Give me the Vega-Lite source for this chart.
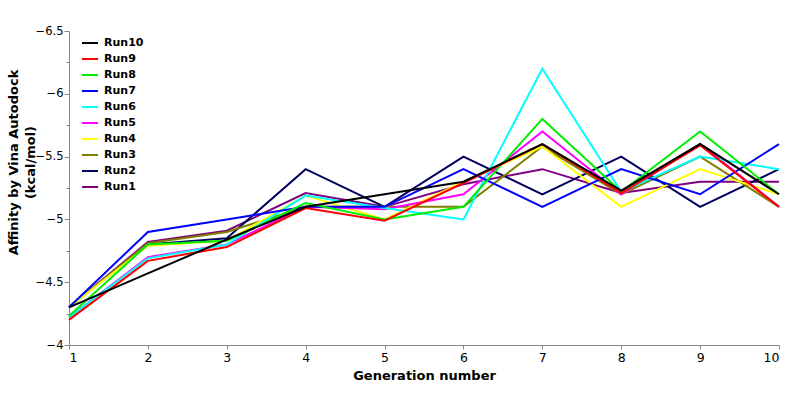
{
  "$schema": "https://vega.github.io/schema/vega-lite/v6.json",
  "width": 710,
  "height": 314,
  "autosize": {"type": "none"},
  "padding": {"left": 69, "top": 31, "right": 21, "bottom": 51},
  "background": "white",
  "config": {"view": {"stroke": null}},
  "data": {
    "values": [
      {"run": "Run1", "gen": 1, "affinity": -4.3},
      {"run": "Run1", "gen": 2, "affinity": -4.82},
      {"run": "Run1", "gen": 3, "affinity": -4.91},
      {"run": "Run1", "gen": 4, "affinity": -5.21},
      {"run": "Run1", "gen": 5, "affinity": -5.1},
      {"run": "Run1", "gen": 6, "affinity": -5.28},
      {"run": "Run1", "gen": 7, "affinity": -5.4},
      {"run": "Run1", "gen": 8, "affinity": -5.21},
      {"run": "Run1", "gen": 9, "affinity": -5.3},
      {"run": "Run1", "gen": 10, "affinity": -5.3},
      {"run": "Run2", "gen": 1, "affinity": -4.3},
      {"run": "Run2", "gen": 2, "affinity": -4.8},
      {"run": "Run2", "gen": 3, "affinity": -4.85},
      {"run": "Run2", "gen": 4, "affinity": -5.4},
      {"run": "Run2", "gen": 5, "affinity": -5.1},
      {"run": "Run2", "gen": 6, "affinity": -5.5},
      {"run": "Run2", "gen": 7, "affinity": -5.2},
      {"run": "Run2", "gen": 8, "affinity": -5.5},
      {"run": "Run2", "gen": 9, "affinity": -5.1},
      {"run": "Run2", "gen": 10, "affinity": -5.4},
      {"run": "Run3", "gen": 1, "affinity": -4.3},
      {"run": "Run3", "gen": 2, "affinity": -4.81},
      {"run": "Run3", "gen": 3, "affinity": -4.9},
      {"run": "Run3", "gen": 4, "affinity": -5.1},
      {"run": "Run3", "gen": 5, "affinity": -5.1},
      {"run": "Run3", "gen": 6, "affinity": -5.1},
      {"run": "Run3", "gen": 7, "affinity": -5.58},
      {"run": "Run3", "gen": 8, "affinity": -5.2},
      {"run": "Run3", "gen": 9, "affinity": -5.5},
      {"run": "Run3", "gen": 10, "affinity": -5.1},
      {"run": "Run4", "gen": 1, "affinity": -4.3},
      {"run": "Run4", "gen": 2, "affinity": -4.79},
      {"run": "Run4", "gen": 3, "affinity": -4.83},
      {"run": "Run4", "gen": 4, "affinity": -5.19},
      {"run": "Run4", "gen": 5, "affinity": -5.0},
      {"run": "Run4", "gen": 6, "affinity": -5.3},
      {"run": "Run4", "gen": 7, "affinity": -5.58},
      {"run": "Run4", "gen": 8, "affinity": -5.1},
      {"run": "Run4", "gen": 9, "affinity": -5.4},
      {"run": "Run4", "gen": 10, "affinity": -5.2},
      {"run": "Run5", "gen": 1, "affinity": -4.22},
      {"run": "Run5", "gen": 2, "affinity": -4.7},
      {"run": "Run5", "gen": 3, "affinity": -4.8},
      {"run": "Run5", "gen": 4, "affinity": -5.1},
      {"run": "Run5", "gen": 5, "affinity": -5.08},
      {"run": "Run5", "gen": 6, "affinity": -5.2},
      {"run": "Run5", "gen": 7, "affinity": -5.7},
      {"run": "Run5", "gen": 8, "affinity": -5.2},
      {"run": "Run5", "gen": 9, "affinity": -5.6},
      {"run": "Run5", "gen": 10, "affinity": -5.1},
      {"run": "Run6", "gen": 1, "affinity": -4.22},
      {"run": "Run6", "gen": 2, "affinity": -4.69},
      {"run": "Run6", "gen": 3, "affinity": -4.8},
      {"run": "Run6", "gen": 4, "affinity": -5.19},
      {"run": "Run6", "gen": 5, "affinity": -5.09},
      {"run": "Run6", "gen": 6, "affinity": -5.0},
      {"run": "Run6", "gen": 7, "affinity": -6.2},
      {"run": "Run6", "gen": 8, "affinity": -5.22},
      {"run": "Run6", "gen": 9, "affinity": -5.5},
      {"run": "Run6", "gen": 10, "affinity": -5.4},
      {"run": "Run7", "gen": 1, "affinity": -4.3},
      {"run": "Run7", "gen": 2, "affinity": -4.9},
      {"run": "Run7", "gen": 3, "affinity": -5.0},
      {"run": "Run7", "gen": 4, "affinity": -5.1},
      {"run": "Run7", "gen": 5, "affinity": -5.1},
      {"run": "Run7", "gen": 6, "affinity": -5.4},
      {"run": "Run7", "gen": 7, "affinity": -5.1},
      {"run": "Run7", "gen": 8, "affinity": -5.4},
      {"run": "Run7", "gen": 9, "affinity": -5.2},
      {"run": "Run7", "gen": 10, "affinity": -5.6},
      {"run": "Run8", "gen": 1, "affinity": -4.23},
      {"run": "Run8", "gen": 2, "affinity": -4.8},
      {"run": "Run8", "gen": 3, "affinity": -4.83},
      {"run": "Run8", "gen": 4, "affinity": -5.13},
      {"run": "Run8", "gen": 5, "affinity": -5.0},
      {"run": "Run8", "gen": 6, "affinity": -5.1},
      {"run": "Run8", "gen": 7, "affinity": -5.8},
      {"run": "Run8", "gen": 8, "affinity": -5.22},
      {"run": "Run8", "gen": 9, "affinity": -5.7},
      {"run": "Run8", "gen": 10, "affinity": -5.2},
      {"run": "Run9", "gen": 1, "affinity": -4.2},
      {"run": "Run9", "gen": 2, "affinity": -4.67},
      {"run": "Run9", "gen": 3, "affinity": -4.78},
      {"run": "Run9", "gen": 4, "affinity": -5.09},
      {"run": "Run9", "gen": 5, "affinity": -4.99},
      {"run": "Run9", "gen": 6, "affinity": -5.29},
      {"run": "Run9", "gen": 7, "affinity": -5.6},
      {"run": "Run9", "gen": 8, "affinity": -5.21},
      {"run": "Run9", "gen": 9, "affinity": -5.59},
      {"run": "Run9", "gen": 10, "affinity": -5.1},
      {"run": "Run10", "gen": 1, "affinity": -4.3},
      {"run": "Run10", "gen": 2, "affinity": -4.57},
      {"run": "Run10", "gen": 3, "affinity": -4.84},
      {"run": "Run10", "gen": 4, "affinity": -5.1},
      {"run": "Run10", "gen": 5, "affinity": -5.2},
      {"run": "Run10", "gen": 6, "affinity": -5.3},
      {"run": "Run10", "gen": 7, "affinity": -5.6},
      {"run": "Run10", "gen": 8, "affinity": -5.23},
      {"run": "Run10", "gen": 9, "affinity": -5.6},
      {"run": "Run10", "gen": 10, "affinity": -5.2}
    ]
  },
  "mark": {"type": "line", "strokeWidth": 2},
  "encoding": {
    "x": {
      "field": "gen",
      "type": "quantitative",
      "scale": {"domain": [1, 10], "nice": false, "zero": false},
      "axis": {
        "title": "Generation number",
        "values": [1, 2, 3, 4, 5, 6, 7, 8, 9, 10],
        "format": "d",
        "grid": false,
        "domainColor": "#888888",
        "tickColor": "#888888",
        "tickSize": 4,
        "labelFont": "DejaVu Sans",
        "labelFontSize": 12.5,
        "labelColor": "#000000",
        "labelPadding": 2,
        "titleFont": "DejaVu Sans",
        "titleFontSize": 13,
        "titleFontWeight": "bold",
        "titleColor": "#000000",
        "titlePadding": 6
      }
    },
    "y": {
      "field": "affinity",
      "type": "quantitative",
      "scale": {"domain": [-6.5, -4], "reverse": true, "nice": false, "zero": false},
      "axis": {
        "title": ["Affinity by Vina Autodock", "(kcal/mol)"],
        "values": [-6.5, -6.25, -6, -5.75, -5.5, -5.25, -5, -4.75, -4.5, -4.25, -4],
        "format": "~g",
        "labelExpr": "abs(datum.value * 2 - round(datum.value * 2)) < 0.001 ? datum.label : ''",
        "grid": false,
        "domainColor": "#888888",
        "tickColor": "#888888",
        "tickSize": {"condition": {"test": "abs(datum.value * 2 - round(datum.value * 2)) < 0.001", "value": 5}, "value": 3},
        "labelFont": "DejaVu Sans",
        "labelFontSize": 11.5,
        "labelColor": "#000000",
        "labelPadding": 1,
        "titleFont": "DejaVu Sans",
        "titleFontSize": 13,
        "titleFontWeight": "bold",
        "titleColor": "#000000",
        "titleLineHeight": 17,
        "titleX": -49,
        "titleY": 131,
        "titleAlign": "center",
        "titleAngle": 270,
        "titleBaseline": "bottom"
      }
    },
    "color": {
      "field": "run",
      "type": "nominal",
      "scale": {
        "domain": ["Run10", "Run9", "Run8", "Run7", "Run6", "Run5", "Run4", "Run3", "Run2", "Run1"],
        "range": ["#000000", "#ff0000", "#00ee00", "#0000ff", "#00ffff", "#ff00ff", "#ffff00", "#7f7f00", "#00005f", "#7f007f"]
      },
      "legend": {
        "title": null,
        "orient": "none",
        "legendX": 12,
        "legendY": 3,
        "symbolType": "stroke",
        "symbolStrokeWidth": 2,
        "symbolSize": 256,
        "labelFont": "DejaVu Sans",
        "labelFontSize": 11,
        "labelFontWeight": "bold",
        "labelColor": "#000000",
        "rowPadding": 2,
        "labelOffset": 5
      }
    }
  }
}
